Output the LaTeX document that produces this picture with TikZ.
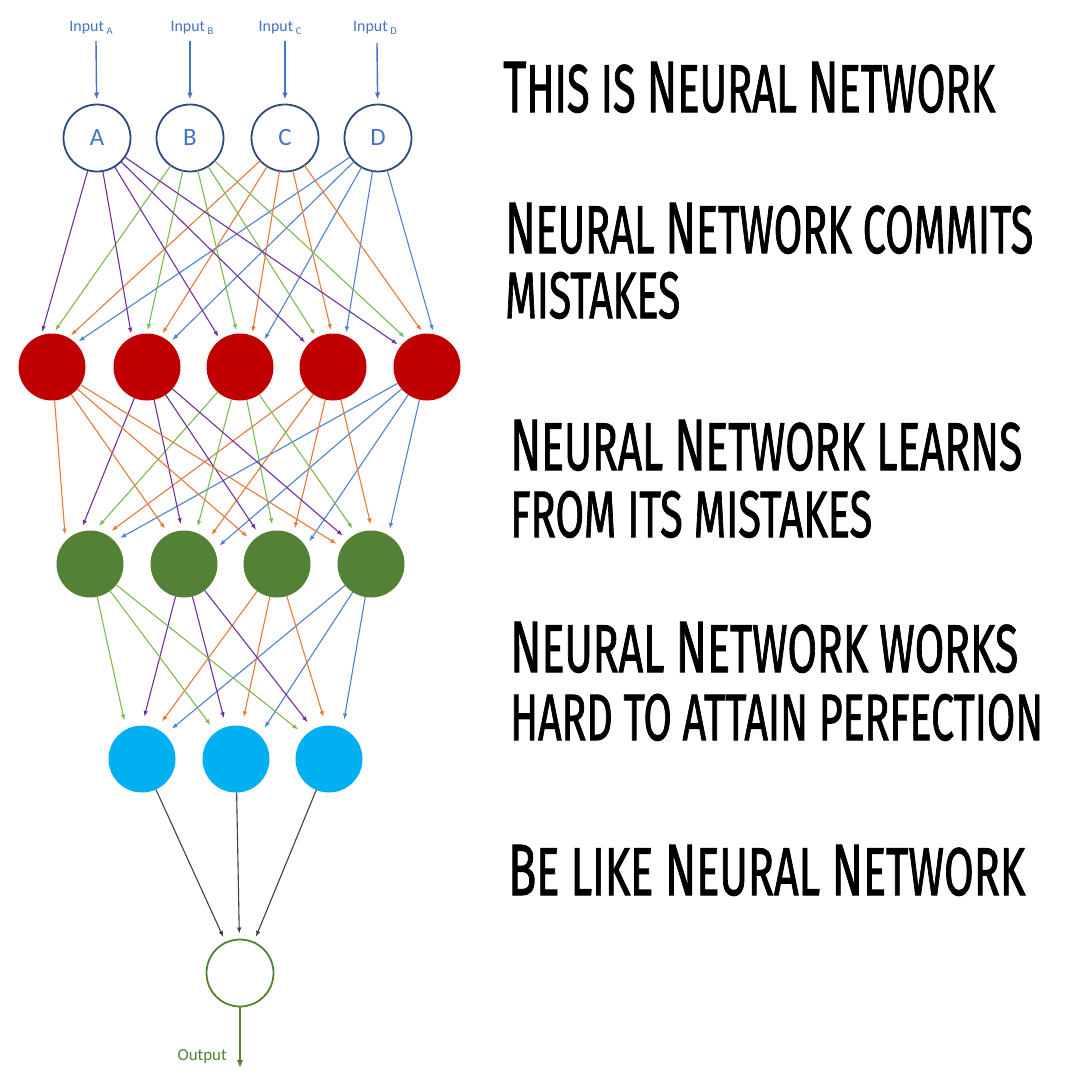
\documentclass[tikz,border=0pt]{standalone}
\usepackage{fontspec}
\usepackage{graphicx}
\setmainfont{Carlito}
\newfontfamily\memefont[FakeBold=1.6]{Fira Sans}
\usetikzlibrary{arrows.meta,calc}
\definecolor{cpur}{HTML}{7030A0}
\definecolor{clgr}{HTML}{7DBB52}
\definecolor{corg}{HTML}{E8793A}
\definecolor{cblu}{HTML}{4F81D0}
\definecolor{cred}{HTML}{C00000}
\definecolor{cdgr}{HTML}{538135}
\definecolor{ccya}{HTML}{00B0F0}
\definecolor{cnav}{HTML}{2E4A7D}
\definecolor{ctxt}{HTML}{4472C4}
\definecolor{cgry}{HTML}{404040}
\newcommand\Bg[1]{{\fontsize{20}{20}\selectfont #1}}
\newcommand\memeline[3]{\resizebox{#1bp}{#2bp}{\memefont\fontsize{18.6}{18.6}\selectfont #3}}
\newcommand\sub[1]{\,\raisebox{-3.5bp}{\fontsize{10.5}{10.5}\selectfont #1}}
\begin{document}
\begin{tikzpicture}[x=1bp,y=-1bp,
  neuron/.style={circle, minimum size=67bp, inner sep=0pt, outer sep=0pt},
  inneuron/.style={neuron, draw=cnav, line width=1.8bp, text=ctxt, font=\fontsize{25}{25}\selectfont},
  redneuron/.style={neuron, fill=cred},
  grnneuron/.style={neuron, fill=cdgr},
  cyaneuron/.style={neuron, fill=ccya},
  outneuron/.style={neuron, draw=cdgr, line width=1.8bp},
  conn/.style={line width=1.1bp, -{Latex[length=6bp,width=4.5bp]}},
  inarrow/.style={line width=1.4bp, draw=ctxt, -{Latex[length=7bp,width=5.5bp]}, shorten >=5bp},
  inlabel/.style={anchor=base, inner sep=0pt, text=ctxt, font=\fontsize{16}{16}\selectfont},
  meme/.style={anchor=base west, inner sep=0pt}
]
\useasboundingbox[fill=white] (0,0) rectangle (1080,1080);

% input layer
\node[inneuron] (A) at (97,138) {A};
\node[inneuron] (B) at (190,138) {\raisebox{-4bp}{B}};
\node[inneuron] (C) at (285,138) {C};
\node[inneuron] (D) at (378,138) {D};
\node[inlabel] (la) at (91,31) {Input\sub{A}};
\node[inlabel] (lb) at (192,31) {Input\sub{B}};
\node[inlabel] (lc) at (280,31) {Input\sub{C}};
\node[inlabel] (ld) at (375,31) {Input\sub{D}};
\coordinate (ta) at (96,41);
\coordinate (tb) at (190,41);
\coordinate (tc) at (285,41);
\coordinate (td) at (377,43);
\draw[inarrow] (ta) -- (A);
\draw[inarrow] (tb) -- (B);
\draw[inarrow] (tc) -- (C);
\draw[inarrow] (td) -- (D);

% hidden layer 1
\node[redneuron] (r1) at (52,367) {};
\node[redneuron] (r2) at (147,367) {};
\node[redneuron] (r3) at (240,367) {};
\node[redneuron] (r4) at (333,367) {};
\node[redneuron] (r5) at (427,367) {};

% hidden layer 2
\node[grnneuron] (g1) at (90,564) {};
\node[grnneuron] (g2) at (184,564) {};
\node[grnneuron] (g3) at (277,564) {};
\node[grnneuron] (g4) at (371,564) {};

% hidden layer 3
\node[cyaneuron] (b1) at (142,759) {};
\node[cyaneuron] (b2) at (236,759) {};
\node[cyaneuron] (b3) at (329,759) {};

% output
\node[outneuron] (out) at (240,973) {};
\coordinate (oend) at (240,1068);
\draw[line width=2.4bp, draw=cdgr, -{Latex[length=8bp,width=6.5bp]}] (out) -- (oend);
\node[anchor=base east, inner sep=0pt, text=cdgr, font=\fontsize{17}{17}\selectfont] (olab) at (227,1060) {Output};

% input -> layer 1
\foreach \t/\a/\b/\c/\d in {r1/109/88/61/45, r2/117/90/66/47, r3/126/95/69/47, r4/139/119/92/68, r5/142/126/96/78}{
  \draw[conn, cpur, shorten >=3.5bp] (A) -- (\t.\a);
  \draw[conn, clgr, shorten >=3.5bp] (B) -- (\t.\b);
  \draw[conn, corg, shorten >=3.5bp] (C) -- (\t.\c);
  \draw[conn, cblu, shorten >=3.5bp] (D) -- (\t.\d);
}
% layer 1 -> layer 2
\foreach \t/\a/\b/\c/\d/\e in {g1/137/107/82/61/43, g2/117/93/69/45/25, g3/137/121/96/61/31, g4/150/134/116/88/59}{
  \draw[conn, corg, shorten >=6.5bp] (r1) -- (\t.\a);
  \draw[conn, cpur, shorten >=6.5bp] (r2) -- (\t.\b);
  \draw[conn, clgr, shorten >=6.5bp] (r3) -- (\t.\c);
  \draw[conn, corg, shorten >=6.5bp] (r4) -- (\t.\d);
  \draw[conn, cblu, shorten >=6.5bp] (r5) -- (\t.\e);
}
% layer 2 -> layer 3
\foreach \t/\a/\b/\c/\d in {b1/118/90/64/47, b2/127/107/80/45, b3/135/118/95/66}{
  \draw[conn, clgr, shorten >=9bp] (g1) -- (\t.\a);
  \draw[conn, cpur, shorten >=9bp] (g2) -- (\t.\b);
  \draw[conn, corg, shorten >=9bp] (g3) -- (\t.\c);
  \draw[conn, cblu, shorten >=9bp] (g4) -- (\t.\d);
}
% layer 3 -> output
\draw[conn, cgry, shorten >=6bp] (b1) -- (out.115);
\draw[conn, cgry, shorten >=6bp] (b2) -- (out.91);
\draw[conn, cgry, shorten >=6bp] (b3) -- (out.66);

% captions
\node[meme] (t1) at (503,112) {\memeline{492}{50}{\Bg{T}HIS IS \Bg{N}EURAL \Bg{N}ETWORK}};
\node[meme] (t2) at (505,253) {\memeline{528}{50}{\Bg{N}EURAL \Bg{N}ETWORK COMMITS}};
\node[meme] (t3) at (505,318) {\memeline{175}{46}{MISTAKES}};
\node[meme] (t4) at (510,470) {\memeline{512}{50}{\Bg{N}EURAL \Bg{N}ETWORK LEARNS}};
\node[meme] (t5) at (510,537) {\memeline{362}{46}{FROM ITS MISTAKES}};
\node[meme] (t6) at (510,672) {\memeline{508}{50}{\Bg{N}EURAL \Bg{N}ETWORK WORKS}};
\node[meme] (t7) at (510,740) {\memeline{533}{46}{HARD TO ATTAIN PERFECTION}};
\node[meme] (t8) at (508,895) {\memeline{517}{50}{\Bg{B}E LIKE \Bg{N}EURAL \Bg{N}ETWORK}};
\end{tikzpicture}
\end{document}
